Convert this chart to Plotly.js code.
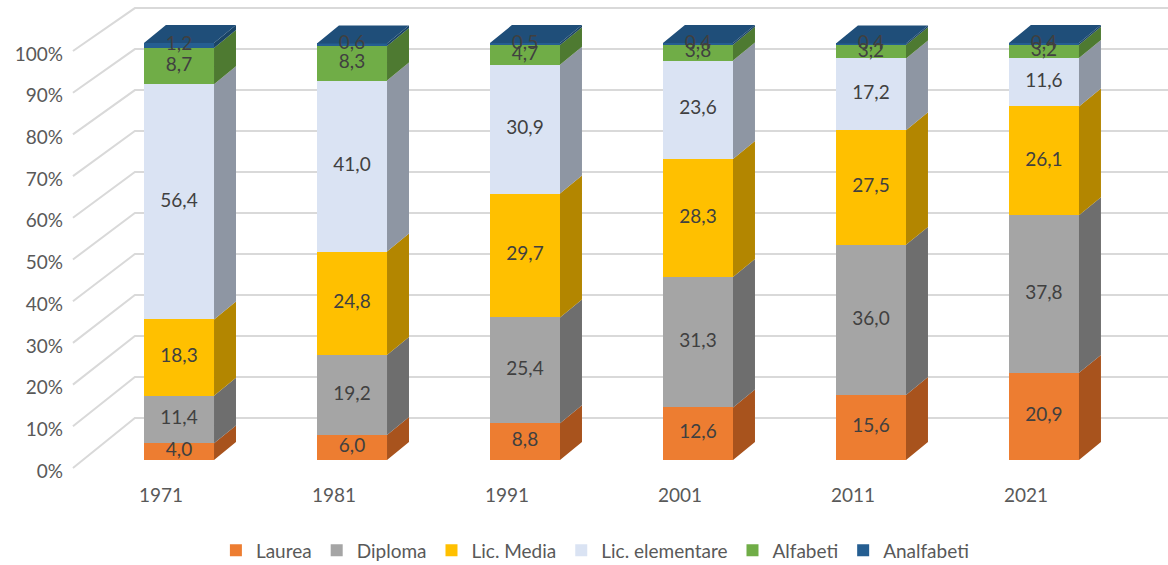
<!DOCTYPE html>
<html>
<head>
<meta charset="utf-8">
<script src="https://cdn.plot.ly/plotly-3.0.1.min.js"></script>
<style>
  html, body { margin: 0; padding: 0; background: #fff; }
  #chart { width: 1168px; height: 565px; }
</style>
</head>
<body>
<div id="chart"></div>
<script>
// data (percent of population by education level)
var years = ['1971', '1981', '1991', '2001', '2011', '2021'];
var laurea = [4.0, 6.0, 8.8, 12.6, 15.6, 20.9];
var diploma = [11.4, 19.2, 25.4, 31.3, 36.0, 37.8];
var licMedia = [18.3, 24.8, 29.7, 28.3, 27.5, 26.1];
var licElementare = [56.4, 41.0, 30.9, 23.6, 17.2, 11.6];
var alfabeti = [8.7, 8.3, 4.7, 3.8, 3.2, 3.2];
var analfabeti = [1.2, 0.6, 0.5, 0.4, 0.4, 0.4];
var yTicks = [0, 10, 20, 30, 40, 50, 60, 70, 80, 90, 100];

var seriesNames = ['Laurea', 'Diploma', 'Lic. Media', 'Lic. elementare', 'Alfabeti', 'Analfabeti'];
var seriesValues = [laurea, diploma, licMedia, licElementare, alfabeti, analfabeti];

// styling
var frontColors = ['#ED7D31', '#A5A5A5', '#FFC000', '#DAE3F3', '#70AD47', '#255E91'];
var sideColors = ['#A8531D', '#6E6E6E', '#B38600', '#8E96A3', '#4E7A31', '#1A4466'];
var topColor = '#1F4E79';
var font = 'Lato, Carlito, sans-serif';

// pseudo-3D geometry (axis units)
var barW = 0.405;
var depthX = 0.127, depthY = 4.3;
var wallX = 0.30, wallY = 10.07, wallScale = 0.983;
var floorX = -0.058, floorY = -1.92;
var gridX0 = -0.613;
var xMin = -0.6416, xMax = 5.717;

var xs = years.map(function (y, i) { return i; });

var traces = [];

// front faces
seriesNames.forEach(function (name, s) {
  traces.push({
    type: 'bar',
    name: name,
    x: xs,
    y: seriesValues[s],
    width: barW,
    marker: { color: frontColors[s], line: { width: 0 } },
    hoverinfo: 'name+y'
  });
});

// side faces
var base = years.map(function () { return 0; });
seriesNames.forEach(function (name, s) {
  var px = [], py = [];
  xs.forEach(function (x, i) {
    var y0 = base[i], y1 = base[i] + seriesValues[s][i];
    var xr = x + barW / 2;
    px.push(xr, xr + depthX, xr + depthX, xr, xr, null);
    py.push(y0, y0 + depthY, y1 + depthY, y1, y0, null);
  });
  traces.push({
    type: 'scatter', mode: 'lines', x: px, y: py,
    fill: 'toself', fillcolor: sideColors[s],
    line: { width: 0, color: sideColors[s] },
    showlegend: false, hoverinfo: 'skip'
  });
  xs.forEach(function (x, i) { base[i] += seriesValues[s][i]; });
});

// top faces
var tx = [], ty = [];
xs.forEach(function (x, i) {
  var xl = x - barW / 2, xr = x + barW / 2, top = base[i];
  tx.push(xl, xr, xr + depthX, xl + depthX, xl, null);
  ty.push(top, top, top + depthY, top + depthY, top, null);
});
traces.push({
  type: 'scatter', mode: 'lines', x: tx, y: ty,
  fill: 'toself', fillcolor: topColor,
  line: { width: 0, color: topColor },
  showlegend: false, hoverinfo: 'skip'
});

// data labels at segment centres
var lx = [], ly = [], lt = [];
var cum = years.map(function () { return 0; });
seriesNames.forEach(function (name, s) {
  xs.forEach(function (x, i) {
    var v = seriesValues[s][i];
    lx.push(x);
    ly.push(cum[i] + v / 2);
    lt.push(v.toFixed(1).replace('.', ','));
    cum[i] += v;
  });
});
traces.push({
  type: 'scatter', mode: 'text', x: lx, y: ly, text: lt,
  textposition: 'middle center',
  textfont: { family: font, size: 19, color: '#404040' },
  showlegend: false, hoverinfo: 'skip'
});

// category labels on the floor front edge
traces.push({
  type: 'scatter', mode: 'text',
  x: xs.map(function (x) { return x + floorX - 0.046; }),
  y: years.map(function () { return -9.0; }),
  text: years,
  textposition: 'middle center',
  textfont: { family: font, size: 19, color: '#595959' },
  showlegend: false, hoverinfo: 'skip'
});

// gridlines: floor edge -> back wall -> right
var shapes = yTicks.map(function (t) {
  var x1 = gridX0 + (wallX - floorX);
  var yb = wallY + t * wallScale;
  return {
    type: 'path', xref: 'x', yref: 'y', layer: 'below',
    path: 'M ' + gridX0 + ',' + (t + floorY) + ' L ' + x1 + ',' + yb + ' L ' + xMax + ',' + yb,
    line: { color: '#D9D9D9', width: 2 }
  };
});

var layout = {
  width: 1168, height: 565,
  margin: { l: 68, r: 0, t: 0, b: 0, autoexpand: false },
  paper_bgcolor: '#fff', plot_bgcolor: '#fff',
  barmode: 'stack',
  showlegend: true,
  legend: {
    orientation: 'h', x: 0.479, xanchor: 'center', y: -0.008, yanchor: 'bottom',
    traceorder: 'normal', itemwidth: 30,
    font: { family: font, size: 19, color: '#595959' }
  },
  xaxis: {
    range: [xMin, xMax], showgrid: false, zeroline: false,
    showticklabels: false, showline: false, fixedrange: true
  },
  yaxis: {
    range: [-25.18, 110.31], showgrid: false, zeroline: false, showline: false,
    tickmode: 'array',
    tickvals: yTicks.map(function (t) { return t - 2.64; }),
    ticktext: yTicks.map(function (t) { return t + '%'; }),
    ticks: '', ticklabelstandoff: 4,
    tickfont: { family: font, size: 19, color: '#595959' },
    fixedrange: true
  },
  shapes: shapes
};

Plotly.newPlot('chart', traces, layout, { displayModeBar: false, staticPlot: true });
</script>
</body>
</html>
